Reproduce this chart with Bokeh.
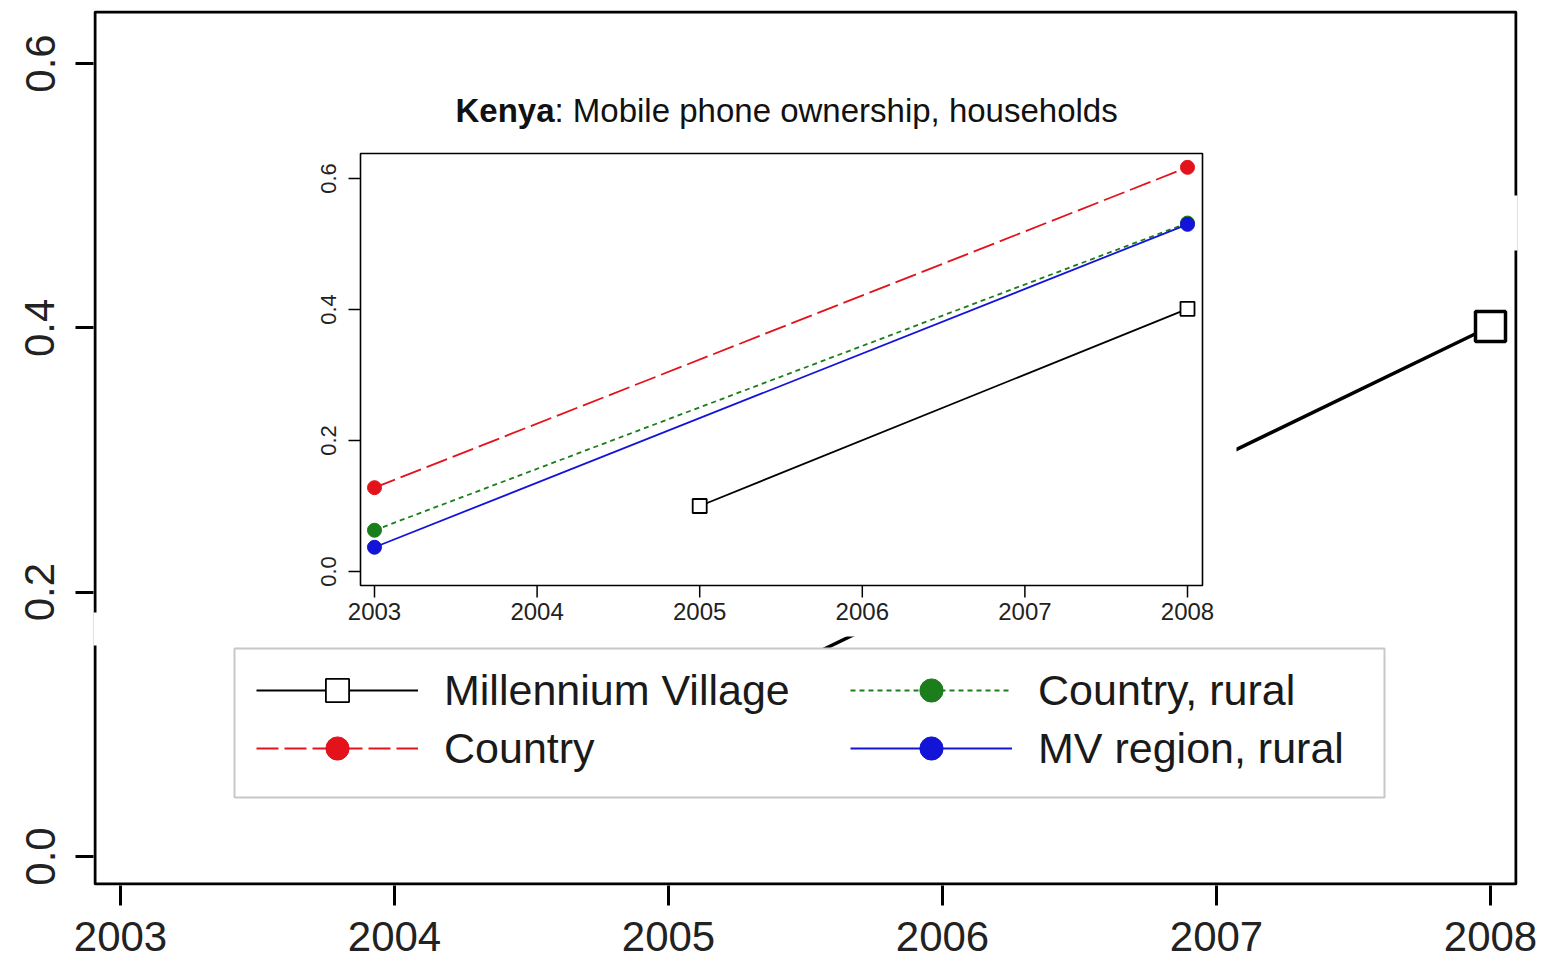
import math
from bokeh.plotting import figure
from bokeh.models import Range1d, FixedTicker, BoxAnnotation, Legend, LegendItem, Label
from bokeh.embed import file_html
from bokeh.resources import INLINE

# ---------------- data ----------------
tick_years = [2003, 2004, 2005, 2006, 2007, 2008]
tick_year_labels = ["2003", "2004", "2005", "2006", "2007", "2008"]
tick_values = [0.0, 0.2, 0.4, 0.6]
tick_value_labels = ["0.0", "0.2", "0.4", "0.6"]

mv_years = [2005, 2008]
mv_share = [0.100, 0.401]               # Millennium Village
base_years = [2003, 2008]
country_share = [0.128, 0.617]          # Country
country_rural_share = [0.063, 0.532]    # Country, rural
mv_region_rural_share = [0.037, 0.530]  # MV region, rural

title_bold = "Kenya"
title_rest = ": Mobile phone ownership, households"
series_names = ["Millennium Village", "Country", "Country, rural", "MV region, rural"]

W, H = 1547, 962
FONT = "Liberation Sans"

# ---------------- main (enlarged background) chart ----------------
BGX = (2002.905, 2008.095)
BGY = (-0.0212, 0.6393)
FL, FR, FT, FB = 93, 1517, 10, 885   # frame edges in px


def bgx(px):
    return BGX[0] + (px - FL) / (FR - FL) * (BGX[1] - BGX[0])


def bgy(py):
    return BGY[1] - (py - FT) / (FB - FT) * (BGY[1] - BGY[0])


# inset coordinate system (drawn inside the same frame via extra ranges)
IN_X0_PX, IN_SX = 374, (1187 - 374) / 5.0      # px of 2003, px per year
IN_Y0_PX, IN_SY = 571, (571 - 178) / 0.6       # px of 0.0, px per unit


def ix(px):
    return 2003 + (px - IN_X0_PX) / IN_SX


def iy(py):
    return (IN_Y0_PX - py) / IN_SY


INX = (ix(360), ix(1202))   # inset axis range
INY = (iy(585), iy(153))

# big-chart ranges expressed through the measured tick positions
X_PX_2003, X_PX_PER_YEAR = 120, (1490 - 120) / 5.0
Y_PX_0, Y_PX_PER_UNIT = 856, (856 - 63) / 0.6


def bx(px):
    return 2003 + (px - X_PX_2003) / X_PX_PER_YEAR


def by(py):
    return (Y_PX_0 - py) / Y_PX_PER_UNIT


p = figure(width=W, height=H, output_backend="svg", toolbar_location=None,
           x_range=Range1d(bx(FL), bx(FR)), y_range=Range1d(by(FB), by(FT)),
           min_border_left=FL, min_border_right=W - FR, min_border_top=FT,
           min_border_bottom=H - FB)
p.extra_x_ranges = {"ix": Range1d(ix(FL), ix(FR))}
p.extra_y_ranges = {"iy": Range1d(iy(FB), iy(FT))}
p.xgrid.visible = False
p.ygrid.visible = False
p.outline_line_color = None
p.background_fill_color = "white"
p.border_fill_color = "white"

for ax in (p.xaxis[0], p.yaxis[0]):
    ax.axis_line_color = None
    ax.major_tick_line_width = 3
    ax.major_tick_line_color = "black"
    ax.minor_tick_line_color = None
    ax.major_tick_in = 0
    ax.major_label_text_font = FONT
    ax.major_label_text_color = "#222222"

p.xaxis.ticker = FixedTicker(ticks=tick_years)
p.xaxis.major_label_overrides = {y: s for y, s in zip(tick_years, tick_year_labels)}
p.xaxis.major_tick_out = 20
p.xaxis.major_label_standoff = 16
p.xaxis.major_label_text_font_size = "42px"

p.yaxis.ticker = FixedTicker(ticks=tick_values)
p.yaxis.major_label_overrides = {v: s for v, s in zip(tick_values, tick_value_labels)}
p.yaxis.major_tick_out = 18
p.yaxis.major_label_standoff = 21
p.yaxis.major_label_orientation = "vertical"
p.yaxis.major_label_text_font_size = "42px"

# big frame, drawn just inside the plotting area
p.add_layout(BoxAnnotation(left=bx(FL + 1.5), right=bx(FR - 1.5), top=by(FT + 1.5),
                           bottom=by(FB - 1.5), fill_alpha=0, line_color="black",
                           line_alpha=1, line_width=3, level="image"))

# enlarged Millennium Village series (mostly hidden under the pasted inset)
p.line(mv_years, mv_share, line_color="black", line_width=3.5, level="underlay")
p.scatter(mv_years, mv_share, marker="square", size=30, fill_color="white",
          line_color="black", line_width=3.5, level="underlay")

# white area of the pasted small chart, and the legend box
cover = BoxAnnotation(left=bx(97), right=bx(1236), top=by(15), bottom=by(636),
                      fill_color="white", fill_alpha=1, line_color=None, level="underlay")
legbox = BoxAnnotation(left=bx(234), right=bx(1384), top=by(648), bottom=by(797),
                       fill_color="white", fill_alpha=1, line_color="#c8c8c8", line_alpha=1,
                       line_width=2, level="underlay")
inset_frame = BoxAnnotation(left=INX[0], right=INX[1], bottom=INY[0], top=INY[1],
                            x_range_name="ix", y_range_name="iy",
                            fill_color="white", fill_alpha=1, line_color="black", line_alpha=1,
                            line_width=1.6, level="underlay")
p.add_layout(cover)
p.add_layout(legbox)
p.add_layout(inset_frame)

# small breaks in the big frame where the pasted pieces overlap it
for (l, r, t, b) in [(90, 100, 612, 645), (1508, 1520, 195, 250)]:
    p.add_layout(BoxAnnotation(left=bx(l), right=bx(r), top=by(t), bottom=by(b),
                               fill_color="white", fill_alpha=1, line_color=None,
                               level="overlay"))

# ---------------- inset axes ----------------
TICK = 12
p.segment(x0=tick_years, y0=[INY[0]] * len(tick_years), x1=tick_years,
          y1=[INY[0] - TICK / IN_SY] * len(tick_years),
          x_range_name="ix", y_range_name="iy", line_color="black", line_width=1.5)
p.text(x=tick_years, y=[INY[0] - (TICK + 5) / IN_SY] * len(tick_years), text=tick_year_labels,
       x_range_name="ix", y_range_name="iy", text_align="center", text_baseline="top",
       text_font_size="24px", text_color="#222222", text_font={"value": FONT})
p.segment(x0=[INX[0] - TICK / IN_SX] * len(tick_values), y0=tick_values,
          x1=[INX[0]] * len(tick_values), y1=tick_values,
          x_range_name="ix", y_range_name="iy", line_color="black", line_width=1.5)
p.text(x=[INX[0] - (TICK + 13) / IN_SX] * len(tick_values), y=tick_values, text=tick_value_labels,
       angle=math.pi / 2, x_range_name="ix", y_range_name="iy", text_align="center",
       text_baseline="bottom", text_font_size="22px", text_color="#222222",
       text_font={"value": FONT})

# ---------------- inset series ----------------
RED = "#e3121b"
GREEN = "#1b7d1b"
BLUE = "#1414d8"
kw = dict(x_range_name="ix", y_range_name="iy")

l_c = p.line(base_years, country_share, line_color=RED, line_width=1.8, line_dash="22 6", **kw)
s_c = p.scatter(base_years, country_share, marker="circle", size=14, fill_color=RED,
                line_color=RED, **kw)
l_r = p.line(base_years, country_rural_share, line_color=GREEN, line_width=1.8, line_dash="5 4", **kw)
s_r = p.scatter(base_years, country_rural_share, marker="circle", size=14, fill_color=GREEN,
                line_color=GREEN, **kw)
l_b = p.line(base_years, mv_region_rural_share, line_color=BLUE, line_width=1.8, **kw)
s_b = p.scatter(base_years, mv_region_rural_share, marker="circle", size=14, fill_color=BLUE,
                line_color=BLUE, **kw)
l_m = p.line(mv_years, mv_share, line_color="black", line_width=1.8, **kw)
s_m = p.scatter(mv_years, mv_share, marker="square", size=14, fill_color="white",
                line_color="black", line_width=1.8, **kw)

# inset title (bold country name + regular text)
p.add_layout(Label(x=ix(554), y=iy(110), text=title_bold, text_align="right",
                   text_baseline="middle", text_font=FONT, text_font_style="bold",
                   text_font_size="33px", text_color="#111111", **kw))
p.add_layout(Label(x=ix(554), y=iy(110), text=title_rest, text_align="left",
                   text_baseline="middle", text_font=FONT, text_font_size="33px",
                   text_color="#111111", **kw))

legend = Legend(items=[
    LegendItem(label=series_names[0], renderers=[l_m, s_m]),
    LegendItem(label=series_names[1], renderers=[l_c, s_c]),
    LegendItem(label=series_names[2], renderers=[l_r, s_r]),
    LegendItem(label=series_names[3], renderers=[l_b, s_b]),
], orientation="vertical", nrows=2,
    location=(234 - FL, FB - 799),
    glyph_width=162, glyph_height=58, spacing=0, padding=22, margin=0,
    label_standoff=26, label_width=406,
    label_text_font=FONT, label_text_font_size="43px", label_text_color="#1a1a1a",
    background_fill_alpha=0, border_line_alpha=0)
p.add_layout(legend)

open("out.html", "w").write(file_html(p, INLINE))
